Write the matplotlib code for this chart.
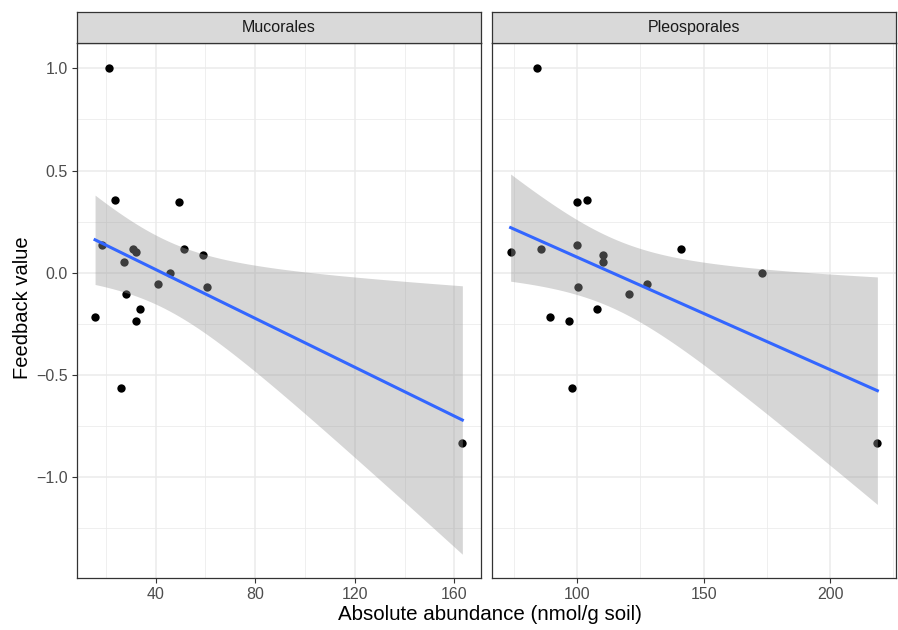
import numpy as np
import matplotlib
matplotlib.use('Agg')
import matplotlib.pyplot as plt

# ── Data ─────────────────────────────────────────────────────────────────────
FEEDBACK = [1.0, 0.357, 0.347, 0.135, 0.116, 0.114, 0.101, 0.087, 0.051, 0.0,
            -0.057, -0.070, -0.106, -0.178, -0.215, -0.235, -0.565, -0.834]
MUCORALES = [21.1, 23.7, 49.6, 18.4, 31.1, 51.5, 32.1, 59.2, 27.2, 45.9,
             40.8, 60.7, 28.0, 33.7, 15.7, 32.0, 26.3, 163.2]
PLEOSPORALES = [84.1, 103.7, 99.8, 100.0, 85.6, 140.9, 73.7, 110.1, 110.2, 173.0,
                127.6, 100.4, 120.6, 108.0, 89.4, 96.7, 97.8, 218.7]

FACETS = ["Mucorales", "Pleosporales"]
X_TICKS = {"Mucorales": [40, 80, 120, 160], "Pleosporales": [100, 150, 200]}
Y_TICKS = [-1.0, -0.5, 0.0, 0.5, 1.0]

T_975 = 2.1199  # t quantile, df = 16

W, H = 898, 630
LINE_BLUE = '#3366FF'
GRID = '#EBEBEB'
DARK = '#333333'
TXT = '#4D4D4D'

plt.rcParams['font.family'] = ['Liberation Sans', 'DejaVu Sans']

fig = plt.figure(figsize=(W / 100, H / 100), dpi=100, facecolor='white')

panels = [(76.7, 480.7), (492.3, 895.7)]
top, bottom, strip_top = 43.3, 578.3, 12.0
ylim = (-1.494, 1.122)


def fit_band(x, y):
    x = np.asarray(x); y = np.asarray(y)
    n = len(x)
    b, a = np.polyfit(x, y, 1)
    resid = y - (a + b * x)
    s = np.sqrt(np.sum(resid ** 2) / (n - 2))
    xs = np.linspace(x.min(), x.max(), 80)
    se = s * np.sqrt(1 / n + (xs - x.mean()) ** 2 / np.sum((x - x.mean()) ** 2))
    fit = a + b * xs
    return xs, fit, fit - T_975 * se, fit + T_975 * se


for i, (name, xdata) in enumerate(zip(FACETS, [MUCORALES, PLEOSPORALES])):
    l, r = panels[i]
    ax = fig.add_axes([l / W, 1 - bottom / H, (r - l) / W, (bottom - top) / H])
    ax.set_facecolor('white')

    xmin, xmax = min(xdata), max(xdata)
    pad = 0.05 * (xmax - xmin)

    xt = X_TICKS[name]
    step = xt[1] - xt[0]
    minor_x = [t - step / 2 for t in xt] + [xt[-1] + step / 2]
    ax.set_xticks(xt)
    ax.set_xticks(minor_x, minor=True)
    ax.set_yticks(Y_TICKS)
    ax.set_yticks([t - 0.25 for t in Y_TICKS] + [1.25], minor=True)
    ax.set_xlim(xmin - pad, xmax + pad)
    ax.set_ylim(*ylim)

    ax.grid(which='major', color=GRID, linewidth=1.1, zorder=0)
    ax.grid(which='minor', color=GRID, linewidth=0.55, zorder=0)
    ax.set_axisbelow(True)

    ax.scatter(xdata, FEEDBACK, s=36, color='black', linewidths=0, zorder=2)

    xs, fit, lo, hi = fit_band(xdata, FEEDBACK)
    ax.fill_between(xs, lo, hi, color='#999999', alpha=0.4, linewidth=0, zorder=3)
    ax.plot(xs, fit, color=LINE_BLUE, linewidth=2.2, zorder=4)

    for sp in ax.spines.values():
        sp.set_color(DARK)
        sp.set_linewidth(0.9)

    ax.tick_params(which='major', length=3.5, width=0.8, color=DARK,
                   labelsize=11.5, labelcolor=TXT, pad=3)
    ax.tick_params(which='minor', length=0)
    ax.set_xticklabels([str(t) for t in xt])
    if i == 0:
        ax.set_yticklabels([f"{t:.1f}".replace('-', '\u2212') for t in Y_TICKS])
    else:
        ax.tick_params(axis='y', which='both', left=False, labelleft=False)

    # facet strip
    sax = fig.add_axes([l / W, 1 - top / H, (r - l) / W, (top - strip_top) / H])
    sax.set_facecolor('#D9D9D9')
    sax.set_xticks([]); sax.set_yticks([])
    for sp in sax.spines.values():
        sp.set_color(DARK)
        sp.set_linewidth(0.9)
    sax.text(0.5, 0.5, name, ha='center', va='center', fontsize=11.5,
             color='#1A1A1A', transform=sax.transAxes)

fig.text(490 / W, 1 - 615 / H, "Absolute abundance (nmol/g soil)",
         ha='center', va='center', fontsize=14.8, color='black')
fig.text(23 / W, 1 - 308 / H, "Feedback value", rotation=90,
         ha='center', va='center', fontsize=14.5, color='black')

plt.savefig('out.png', dpi=100, facecolor='white')
plt.close(fig)
